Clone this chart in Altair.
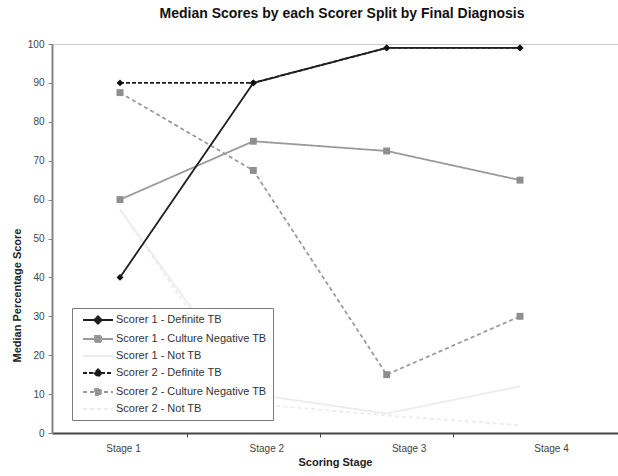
import json
import altair as alt
import pandas as pd

# ---- data ----
stages = ["Stage 1", "Stage 2", "Stage 3", "Stage 4"]
series_names = [
    "Scorer 1 - Definite TB",
    "Scorer 1 - Culture Negative TB",
    "Scorer 1 - Not TB",
    "Scorer 2 - Definite TB",
    "Scorer 2 - Culture Negative TB",
    "Scorer 2 - Not TB",
]
s1_definite = [40, 90, 99, 99]
s1_culture_neg = [60, 75, 72.5, 65]
s1_not_tb = [57.5, 10, 5, 12]
s2_definite = [90, 90, 99, 99]
s2_culture_neg = [87.5, 67.5, 15, 30]
s2_not_tb = [57.5, 7.5, 4.5, 2]

series_values = [s1_definite, s1_culture_neg, s1_not_tb,
                 s2_definite, s2_culture_neg, s2_not_tb]

# ---- styles ----
line_colors = ["#1e1e1e", "#9a9a9a", "#ececec", "#1e1e1e", "#9a9a9a", "#ececec"]
fill_colors = ["#111111", "#8e8e8e", "#ececec", "#111111", "#8e8e8e", "#ececec"]
dashes = [[1, 0], [1, 0], [1, 0], [4, 2], [4, 3], [4, 3]]
legend_paths = [
    "M-3,0H3M0,-0.75L0.75,0L0,0.75L-0.75,0Z",
    "M-3,0H3M-0.6,-0.6H0.6V0.6H-0.6Z",
    "M-3,0H3",
    "M-3,0H3M0,-0.75L0.75,0L0,0.75L-0.75,0Z",
    "M-3,0H3M-0.6,-0.6H0.6V0.6H-0.6Z",
    "M-3,0H3",
]
draw_order = [2, 5, 1, 4, 0, 3]  # faint lines underneath, dark on top

rows = []
for k in draw_order:
    for i, v in enumerate(series_values[k]):
        rows.append({"series": series_names[k], "stage": stages[i], "pos": i + 1, "score": v})
df = pd.DataFrame(rows)

FONT = "Liberation Sans"

stroke_scale = alt.Scale(domain=series_names, range=line_colors)
fill_scale = alt.Scale(domain=series_names, range=fill_colors)
dash_scale = alt.Scale(domain=series_names, range=dashes)
shape_scale = alt.Scale(domain=series_names, range=legend_paths)

label_expr = "datum.value % 1 === 0 ? " + json.dumps(stages) + "[datum.value - 1] : ''"

x_enc = alt.X(
    "pos:Q",
    scale=alt.Scale(domain=[0.49, 4.735], nice=False, zero=False),
    axis=alt.Axis(
        values=[1, 1.5, 2, 2.5, 3, 3.5, 4],
        labelExpr=label_expr,
        title="Scoring Stage",
        titleFont=FONT, titleFontSize=11, titleFontWeight="bold", titleColor="#222",
        titlePadding=3,
        labelFont=FONT, labelFontSize=10, labelColor="#444",
        labelPadding=6, labelFlush=False, labelOverlap=False,
        labelOffset={"condition": [
            {"test": "datum.value === 2", "value": 13},
            {"test": "datum.value === 3", "value": 22},
            {"test": "datum.value === 4", "value": 31},
        ], "value": 3},
        domainColor="#444", domainWidth=2,
        tickColor="#444", tickSize=4, tickWidth=1,
        tickOpacity={"condition": {"test": "datum.value % 1 === 0", "value": 0}, "value": 1},
        grid=False,
    ),
)
y_enc = alt.Y(
    "score:Q",
    scale=alt.Scale(domain=[0, 100], nice=False),
    axis=alt.Axis(
        values=list(range(0, 101, 10)),
        title="Median Percentage Score",
        titleFont=FONT, titleFontSize=11, titleFontWeight="bold", titleColor="#222",
        titlePadding=5, titleY=251,
        labelFont=FONT, labelFontSize=10, labelColor="#444", labelPadding=4,
        domainColor="#858585", domainWidth=2,
        tickColor="#858585", tickSize=4,
        grid=True, gridColor="#c8c8c8", gridWidth=1,
        gridOpacity={"condition": {"test": "datum.value === 100", "value": 1}, "value": 0},
    ),
)

legend = alt.Legend(
    title=None, orient="none", legendX=20, legendY=264, direction="vertical",
    strokeColor="#7a7a7a", fillColor="white", padding=6,
    labelFont=FONT, labelFontSize=11, labelColor="#333",
    symbolSize=100, symbolStrokeWidth=1.8, symbolOffset=14, labelOffset=12,
    rowPadding=4, symbolLimit=0,
)

base = alt.Chart(df)

lines = base.mark_line(strokeWidth=1.8).encode(
    x=x_enc, y=y_enc,
    stroke=alt.Stroke("series:N", scale=stroke_scale, legend=legend),
    strokeDash=alt.StrokeDash("series:N", scale=dash_scale, legend=legend),
    detail="series:N",
)

diamonds = base.transform_filter(
    alt.FieldOneOfPredicate(field="series", oneOf=[series_names[0], series_names[3]])
).mark_point(shape="diamond", filled=True, size=48, opacity=1).encode(
    x=x_enc, y=y_enc,
    fill=alt.Fill("series:N", scale=fill_scale, legend=legend),
)

squares = base.transform_filter(
    alt.FieldOneOfPredicate(field="series", oneOf=[series_names[1], series_names[4]])
).mark_point(shape="square", filled=True, size=48, opacity=1).encode(
    x=x_enc, y=y_enc,
    fill=alt.Fill("series:N", scale=fill_scale, legend=legend),
)

legend_layer = base.transform_filter("false").mark_point(opacity=1, strokeWidth=1.8, size=100).encode(
    x=x_enc, y=y_enc,
    stroke=alt.Stroke("series:N", scale=stroke_scale, legend=legend),
    fill=alt.Fill("series:N", scale=fill_scale, legend=legend),
    shape=alt.Shape("series:N", scale=shape_scale, legend=legend),
    strokeDash=alt.StrokeDash("series:N", scale=dash_scale, legend=legend),
)

chart = alt.layer(lines, squares, diamonds, legend_layer).properties(
    width=566,
    height=389,
    autosize=alt.AutoSizeParams(type="none"),
    padding={"left": 52, "top": 44, "right": 0, "bottom": 43},
    title=alt.TitleParams(
        "Median Scores by each Scorer Split by Final Diagnosis",
        font=FONT, fontSize=14, fontWeight="bold", color="#111",
        anchor="middle", frame="group", offset=18, dx=7,
    ),
    background="white",
).configure_view(stroke=None)

chart.save("out.html", embed_options={"renderer": "svg", "actions": False})
